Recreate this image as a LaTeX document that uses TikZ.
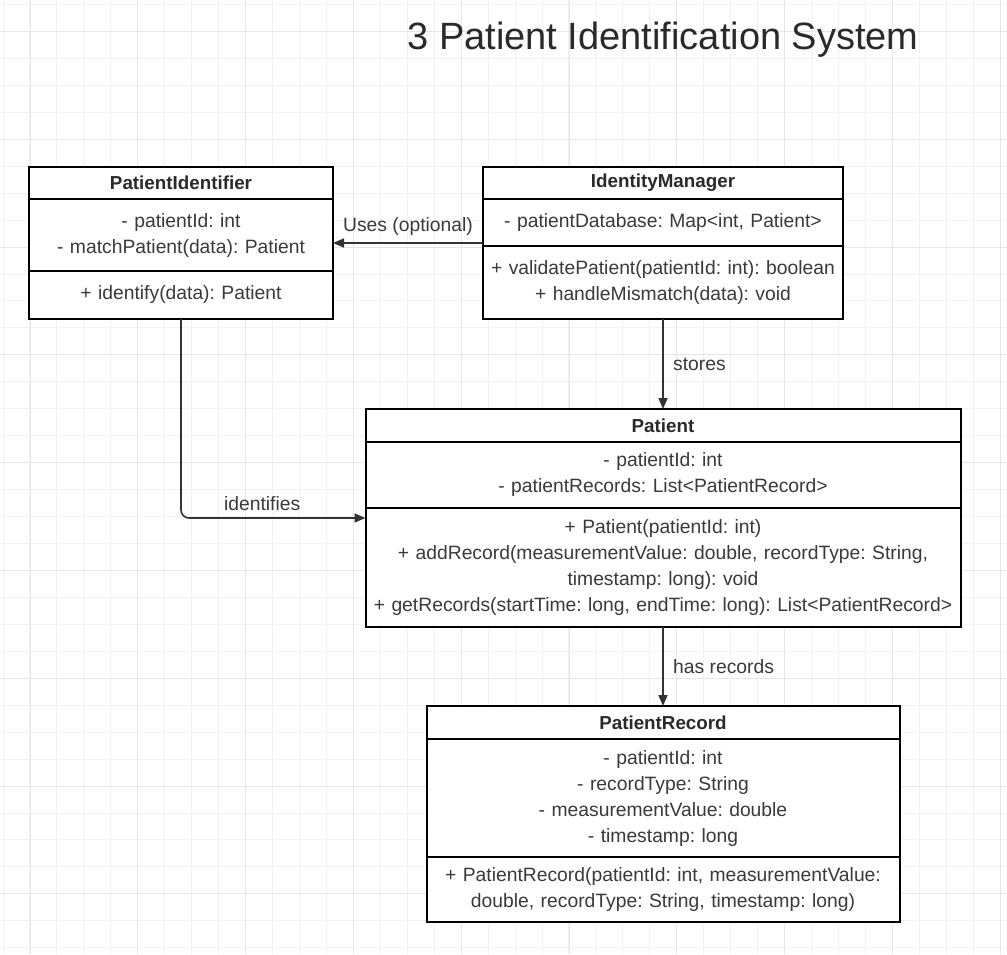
\documentclass[tikz,border=0pt]{standalone}
\usepackage{fontspec}
\setmainfont{Liberation Sans}
\frenchspacing
\usetikzlibrary{positioning,calc,arrows.meta}
\definecolor{gridmin}{HTML}{F2F2F2}
\definecolor{gridmaj}{HTML}{E6E6E6}
\definecolor{ink}{HTML}{3A3A3A}
\definecolor{headink}{HTML}{2A2A2A}
\definecolor{linec}{HTML}{333333}

\begin{document}
\begin{tikzpicture}[x=1pt,y=-1pt,
  box/.style={draw=black,line width=2pt,fill=white,outer sep=0pt,inner xsep=6pt,
    align=center,text=ink,font=\fontsize{19.3}{26}\selectfont},
  head/.style={box,minimum height=#1,text=headink,font=\bfseries\fontsize{18.8}{26}\selectfont},
  part/.style={box,minimum height=#1},
  rel/.style={draw=linec,line width=1.6pt,-{Triangle[length=11pt,width=9pt]}},
  rellabel/.style={text=ink,font=\fontsize{19.3}{26}\selectfont}]
\useasboundingbox (0,0) rectangle (1007,954);
\fill[white] (0,0) rectangle (1007,954);
\foreach \i in {0,...,37} \draw[gridmin,line width=1pt] ({3+\i*26.95},0) -- ++(0,954);
\foreach \j in {0,...,35} \draw[gridmin,line width=1pt] (0,{4.5+\j*26.95}) -- ++(1007,0);
\foreach \i in {0,...,9} \draw[gridmaj,line width=1pt] ({30+\i*107.8},0) -- ++(0,954);
\foreach \j in {0,...,8} \draw[gridmaj,line width=1pt] (0,{31.5+\j*107.8}) -- ++(1007,0);

\node[anchor=base,text=headink,font=\fontsize{38}{46}\selectfont] (title) at (663,49) {3 Patient Identification System};

\node[head=32pt,text width=292pt] (pi-h) at (181,183) {PatientIdentifier};
\node[part=72pt,text width=292pt,below=0pt of pi-h] (pi-a) {- patientId: int\\- matchPatient(data): Patient};
\node[part=48pt,text width=292pt,below=0pt of pi-a] (pi-m) {+ identify(data): Patient};

\node[head=32pt,text width=348pt] (im-h) at (663,183) {IdentityManager};
\node[part=47pt,text width=348pt,below=0pt of im-h] (im-a) {- patientDatabase: Map<int, Patient>};
\node[part=73pt,text width=348pt,below=0pt of im-a] (im-m) {+ validatePatient(patientId: int): boolean\\+ handleMismatch(data): void};

\node[head=33pt,text width=583pt] (pa-h) at (663,425.5) {Patient};
\node[part=66pt,text width=583pt,below=0pt of pa-h] (pa-a) {- patientId: int\\- patientRecords: List<PatientRecord>};
\node[part=119pt,text width=583pt,below=0pt of pa-a] (pa-m) {+ Patient(patientId: int)\\+ addRecord(measurementValue: double, recordType: String,\\timestamp: long): void\\+ getRecords(startTime: long, endTime: long): List<PatientRecord>};

\node[head=33pt,text width=461pt] (pr-h) at (663,722.5) {PatientRecord};
\node[part=118pt,text width=461pt,below=0pt of pr-h] (pr-a) {- patientId: int\\- recordType: String\\- measurementValue: double\\- timestamp: long};
\node[part=65pt,text width=461pt,below=0pt of pr-a] (pr-m) {+ PatientRecord(patientId: int, measurementValue:\\double, recordType: String, timestamp: long)};

\coordinate (pi-e) at ($(pi-h.north east)!.5!(pi-m.south east)$);
\coordinate (im-w) at ($(im-h.north west)!.5!(im-m.south west)$);
\coordinate (pa-w) at ($(pa-h.north west)!.5!(pa-m.south west)$);

\draw[rel] (im-w) -- node[rellabel,above=3pt] {Uses (optional)} (pi-e);
\draw[rel] (im-m.south) -- node[rellabel,right=6pt] {stores} (pa-h.north);
\draw[rel,rounded corners=8pt] (pi-m.south) |- node[rellabel,pos=.72,above=3pt] {identifies} (pa-w);
\draw[rel] (pa-m.south) -- node[rellabel,right=6pt] {has records} (pr-h.north);
\end{tikzpicture}
\end{document}
